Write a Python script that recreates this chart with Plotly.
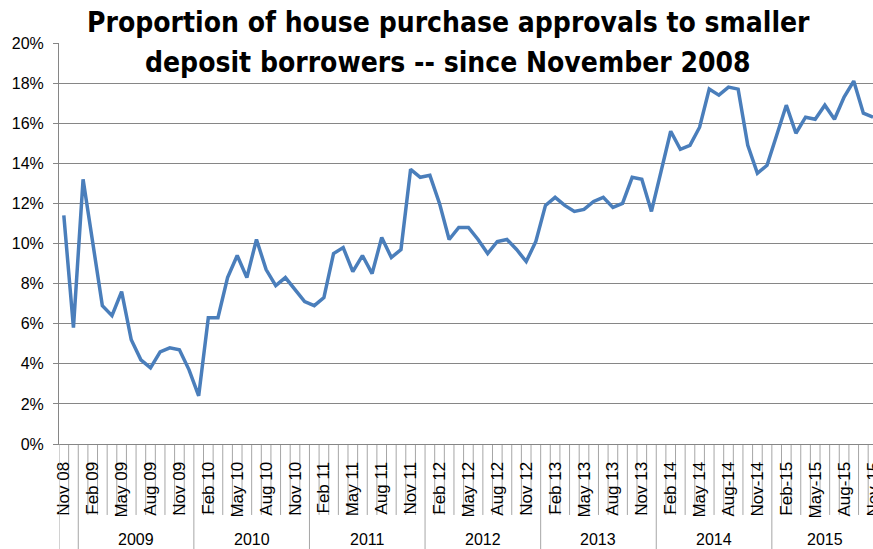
import plotly.graph_objects as go
import pandas as pd

# ---- data ----
months = [d.strftime("%b %y") for d in pd.date_range("2008-11-01", "2015-11-01", freq="MS")]
values = [11.4, 5.8, 13.2, 10.0, 6.9, 6.4, 7.6, 5.2, 4.2, 3.8, 4.6, 4.8, 4.7, 3.7,
          2.4, 6.3, 6.3, 8.3, 9.4, 8.3, 10.2, 8.7, 7.9, 8.3, 7.7, 7.1,
          6.9, 7.3, 9.5, 9.8, 8.6, 9.4, 8.5, 10.3, 9.3, 9.7, 13.7, 13.3,
          13.4, 12.0, 10.2, 10.8, 10.8, 10.2, 9.5, 10.1, 10.2, 9.7, 9.1, 10.1,
          11.9, 12.3, 11.9, 11.6, 11.7, 12.1, 12.3, 11.8, 12.0, 13.3, 13.2, 11.6,
          13.6, 15.6, 14.7, 14.9, 15.8, 17.7, 17.4, 17.8, 17.7, 14.9, 13.5, 13.9,
          15.4, 16.9, 15.5, 16.3, 16.2, 16.9, 16.2, 17.3, 18.1, 16.5, 16.3]
tick_labels = ["Nov 08", "Feb 09", "May 09", "Aug 09", "Nov 09", "Feb 10", "May 10",
               "Aug 10", "Nov 10", "Feb 11", "May 11", "Aug 11", "Nov 11", "Feb 12",
               "May 12", "Aug 12", "Nov 12", "Feb 13", "May 13", "Aug 13", "Nov 13",
               "Feb 14", "May 14", "Aug-14", "Nov-14", "Feb-15", "May-15", "Aug-15", "Nov-15"]
years = ["2009", "2010", "2011", "2012", "2013", "2014", "2015"]
title_lines = ["Proportion of house purchase approvals to smaller",
               "deposit borrowers -- since November 2008"]

tick_vals = months[::3]
fracs = [v / 100 for v in values]

GRID = "#868686"
SEP = "#a6a6a6"
FONT = "Liberation Sans, Arial, sans-serif"

fig = go.Figure(go.Scatter(x=months, y=fracs, mode="lines",
                           line=dict(color="#4A7EBB", width=3.5), showlegend=False))

shapes = []
n = len(months)
# category boundary lines under axis
for i in range(n - 1):
    is_year = months[i + 1].startswith("Jan")
    shapes.append(dict(type="line", xref="x", yref="paper", x0=i + 0.5, x1=i + 0.5,
                       y0=0, y1=-0.262 if is_year else -0.177,
                       line=dict(color=SEP, width=1), layer="below"))
# axis line extended to bottom
shapes.append(dict(type="line", xref="x", yref="paper", x0=-0.5, x1=-0.5, y0=0, y1=-0.262,
                   line=dict(color=SEP, width=1)))

annotations = []
# year labels, centred on their month groups
for y in years:
    idx = [i for i, m in enumerate(months) if m.endswith(y[2:])]
    annotations.append(dict(x=(idx[0] + idx[-1]) / 2, y=-0.239, xref="x", yref="paper",
                            text=y, showarrow=False, font=dict(family=FONT, size=16, color="black"),
                            xanchor="center", yanchor="middle"))
# title lines
for k, line in enumerate(title_lines):
    annotations.append(dict(x=0.478, y=[1.097, 0.998][k], xref="paper", yref="paper",
                            text=line, showarrow=False,
                            font=dict(family="DejaVu Sans Condensed, sans-serif",
                                      size=28, color="black", weight="bold"),
                            xanchor="center", yanchor="top"))

fig.update_layout(
    width=873, height=549,
    margin=dict(l=59, r=0, t=43, b=105, autoexpand=False),
    plot_bgcolor="white", paper_bgcolor="white",
    xaxis=dict(type="category", range=[-0.5, 84.0], tickvals=tick_vals, ticktext=tick_labels,
               tickangle=-90, ticks="", showgrid=False, showline=True, linecolor=GRID,
               automargin=False,
               tickfont=dict(family=FONT, size=17, color="black"), ticklabelstandoff=10),
    yaxis=dict(range=[0, 0.2], dtick=0.02, tickformat=".0%", showgrid=True, gridcolor=GRID,
               gridwidth=1, zeroline=False, showline=True, linecolor=GRID, ticks="outside",
               ticklen=5, tickcolor=GRID, tickfont=dict(family=FONT, size=16, color="black"),
               automargin=False, ticklabelstandoff=6),
    shapes=shapes, annotations=annotations,
)

fig.write_html("out.html")
